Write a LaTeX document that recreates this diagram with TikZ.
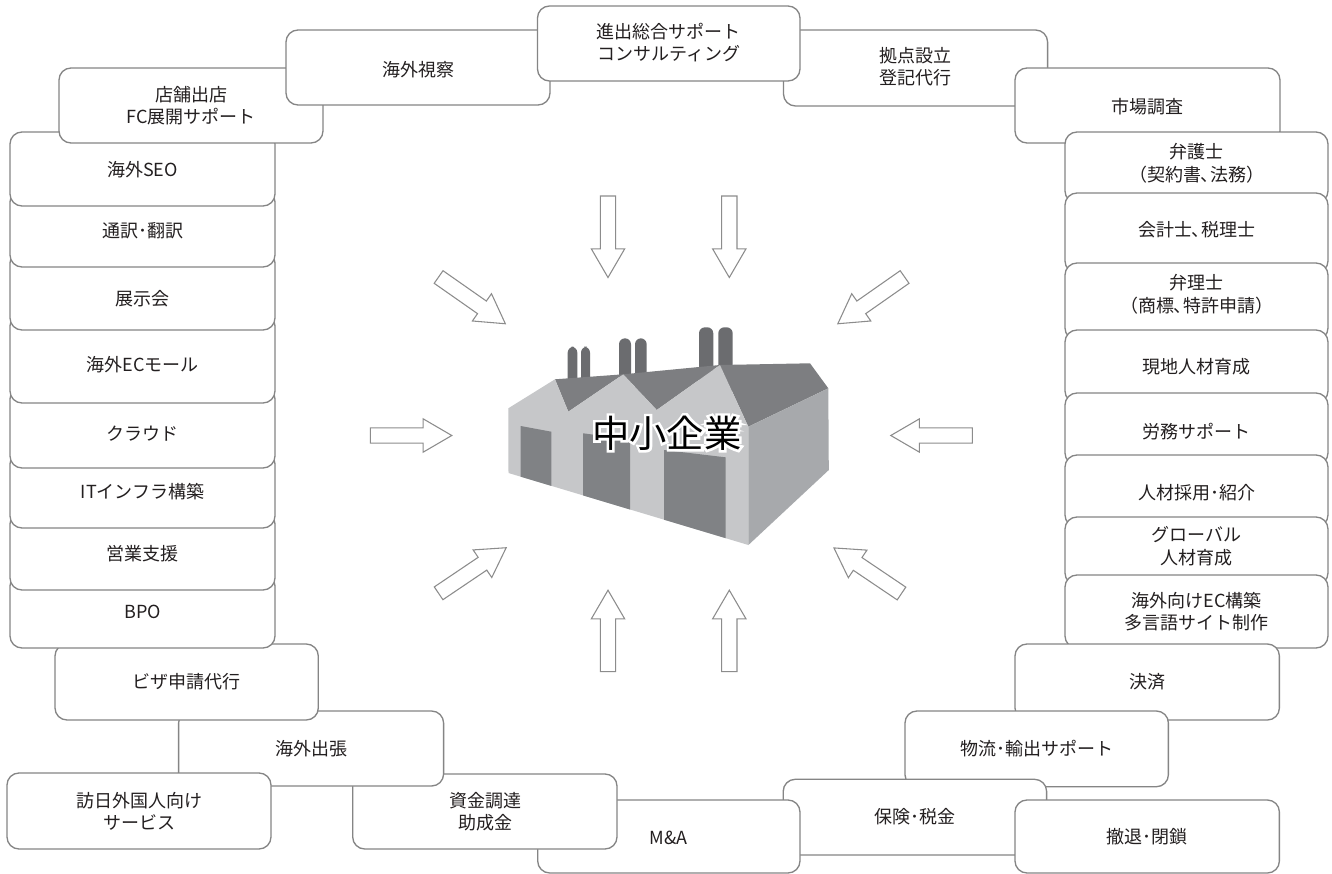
\documentclass[tikz,border=0pt]{standalone}
\usepackage{fontspec}
\setmainfont{Noto Sans CJK JP}
% proportional punctuation for the ideographic comma
\newfontfamily\propfont[RawFeature=+palt]{Noto Sans CJK JP}
% stroked white copy of the title, used as its halo
\newfontfamily\halofont[FakeBold=13.5]{Noto Sans CJK JP}
\usetikzlibrary{calc}

\definecolor{boxline}{HTML}{858585}
\definecolor{ink}{HTML}{231F20}
\definecolor{arrowgray}{HTML}{8C8C8C}
\definecolor{facade}{HTML}{C6C7C9}
\definecolor{roof}{HTML}{7D7E81}
\definecolor{door}{HTML}{808285}
\definecolor{sidewall}{HTML}{A7A9AC}
\definecolor{chimney}{HTML}{6B6C6F}

\newcommand\pcomma{{\propfont 、}}

\tikzset{
  svc/.style={draw=boxline, line width=1pt, fill=white, rounded corners=9pt},
  lbl/.style={text=ink, align=center, inner sep=0pt,
              font=\fontsize{13.5}{16.9}\selectfont},
  bigtext/.style={inner sep=0pt, font=\fontsize{28}{32}\selectfont},
  arrowline/.style={draw=arrowgray, line width=0.8pt, fill=white, line join=miter},
  blockarrow/.pic={
    \path[arrowline] (0,-7.7) -- (52.9,-7.7) -- (52.9,-16.65) -- (81.5,0)
      -- (52.9,16.65) -- (52.9,7.7) -- (0,7.7) -- cycle;
  },
}

% rounded service box with its centred label
\newcommand\svcbox[8]{%
  \draw[svc] (#2,#3) rectangle (#4,#5);
  \node[lbl] (#1) at (#6,#7) {#8};}

\begin{document}
\begin{tikzpicture}[x=0.75pt, y=-0.75pt]
\fill[white] (0,0) rectangle (1332,874);
\useasboundingbox (0,0) rectangle (1332,874);

% ---- service boxes, back to front ----
\svcbox{hub}{783.5}{30}{1047.6}{106}{915.5}{66.7}{拠点設立\\登記代行}
\svcbox{market}{1015}{68}{1280}{143}{1147.5}{106.7}{市場調査}
\svcbox{lawyer}{1065}{132}{1328}{203}{1196.5}{163.3}{弁護士\\（契約書\pcomma 法務）}
\svcbox{account}{1065}{193}{1328}{273}{1196.5}{230}{会計士\pcomma 税理士}
\svcbox{patent}{1065}{263}{1328}{340}{1196.5}{294.2}{弁理士\\（商標\pcomma 特許申請）}
\svcbox{localhr}{1065}{330}{1328}{403}{1196.5}{366.7}{現地人材育成}
\svcbox{labor}{1065}{393}{1328}{465}{1196.5}{431.7}{労務サポート}
\svcbox{recruit}{1065}{455}{1328}{527}{1196.5}{493}{人材採用･紹介}
\svcbox{globalhr}{1065}{517}{1328}{585}{1196.5}{546}{グローバル\\人材育成}
\svcbox{ecsite}{1065}{575}{1328}{648}{1196.5}{611.7}{海外向けEC構築\\多言語サイト制作}
\svcbox{payment}{1015}{644}{1279.4}{720}{1147.2}{681.7}{決済}
\svcbox{logistics}{905}{711}{1168.4}{786.7}{1036.7}{748.3}{物流･輸出サポート}
\svcbox{insurance}{783.2}{779.3}{1046.6}{855}{915}{816.7}{保険･税金}
\svcbox{exit}{1015}{800}{1279.4}{873}{1147.2}{836.7}{撤退･閉鎖}
\svcbox{mna}{537.7}{800}{800}{873}{668.8}{838}{M\&A}
\svcbox{funding}{352.7}{774}{617}{849}{485}{811.5}{資金調達\\助成金}
\svcbox{trip}{178.6}{711}{443.6}{786}{311}{748.3}{海外出張}
\svcbox{inbound}{7}{773}{271}{849}{139}{811.5}{訪日外国人向け\\サービス}
\svcbox{visa}{55}{644}{318.3}{720}{186.5}{682}{ビザ申請代行}
\svcbox{bpo}{10}{574}{275}{648}{142.5}{611.7}{BPO}
\svcbox{sales}{10}{512}{275}{590}{142.5}{553.3}{営業支援}
\svcbox{infra}{10}{452}{275}{528}{142.5}{491.7}{ITインフラ構築}
\svcbox{cloud}{10}{387}{275}{468}{142.5}{433.3}{クラウド}
\svcbox{ecmall}{10}{314}{275}{403}{142.5}{365}{海外ECモール}
\svcbox{expo}{10}{251}{275}{330}{142.5}{299}{展示会}
\svcbox{transl}{10}{190}{275}{267}{142.5}{231}{通訳･翻訳}
\svcbox{seo}{10}{132}{275}{206}{142.5}{170}{海外SEO}
\svcbox{store}{59}{68}{323}{143}{191}{105.5}{店舗出店\\FC展開サポート}
\svcbox{tour}{286}{30}{550}{105}{418}{70}{海外視察}
\svcbox{consult}{537.5}{6}{800}{81}{668.7}{42.5}{進出総合サポート\\コンサルティング}

% ---- block arrows pointing at the factory ----
\pic (aN1) [rotate=-90] at (608,196) {blockarrow};
\pic (aN2) [rotate=-90] at (729.3,196) {blockarrow};
\pic (aS1) [rotate=90] at (608,671.7) {blockarrow};
\pic (aS2) [rotate=90] at (729.3,671.7) {blockarrow};
\pic (aW) at (370.3,435.5) {blockarrow};
\pic (aE) [rotate=180] at (972.3,435.5) {blockarrow};
\pic (aNW) [rotate=-35] at (438.6,277) {blockarrow};
\pic (aNE) [rotate=-145] at (904.6,277) {blockarrow};
\pic (aSW) [rotate=34] at (438.6,593.3) {blockarrow};
\pic (aSE) [rotate=146] at (901.5,593.5) {blockarrow};

% ---- factory ----
% chimneys
\foreach \xa/\xb/\yt in {567.7/577.3/346.7, 581/590/346.7,
                         619/631/338.3, 635/646.7/338.3,
                         699/713.3/327.3, 718.3/732.7/327.3}{
  \fill[chimney, rounded corners=4.5pt] (\xa,395) -- (\xa,\yt) -- (\xb,\yt) -- (\xb,395) -- cycle;
}
% roof slopes
\fill[roof] (555,379.3) -- (623.3,374.3) -- (568.3,411.7) -- cycle;
\fill[roof] (623.3,374.3) -- (699,367) -- (720,365) -- (656.7,410) -- cycle;
\fill[roof] (720,365) -- (810,363.3) -- (828.3,388.3) -- (748.3,426.7) -- cycle;
% front facade
\fill[facade] (508.3,408.3) -- (555,379.3) -- (568.3,411.7) -- (623.3,374.3)
  -- (656.7,410) -- (720,365) -- (748.3,426.7) -- (748.4,545) -- (508.5,473) -- cycle;
% side wall
\fill[sidewall] (748.3,426.7) -- (828.3,388.3) -- (828.8,470) -- (748.4,545) -- cycle;
% doors
\fill[door] (520.7,426) -- (551.4,431.7) -- (551.4,485.9) -- (520.7,476.7) -- cycle;
\fill[door] (583,433.3) -- (630,439.3) -- (630,509.5) -- (583,495.4) -- cycle;
\fill[door] (664,450) -- (725.5,457.3) -- (725.5,538.1) -- (664,519.7) -- cycle;

% haloed title
\coordinate (fc) at (666.7,433);
\node[bigtext, text=white, font=\fontsize{28}{32}\halofont] (halo) at (fc) {中小企業};
\node[bigtext, text=black] (sme) at (fc) {中小企業};
\end{tikzpicture}
\end{document}
